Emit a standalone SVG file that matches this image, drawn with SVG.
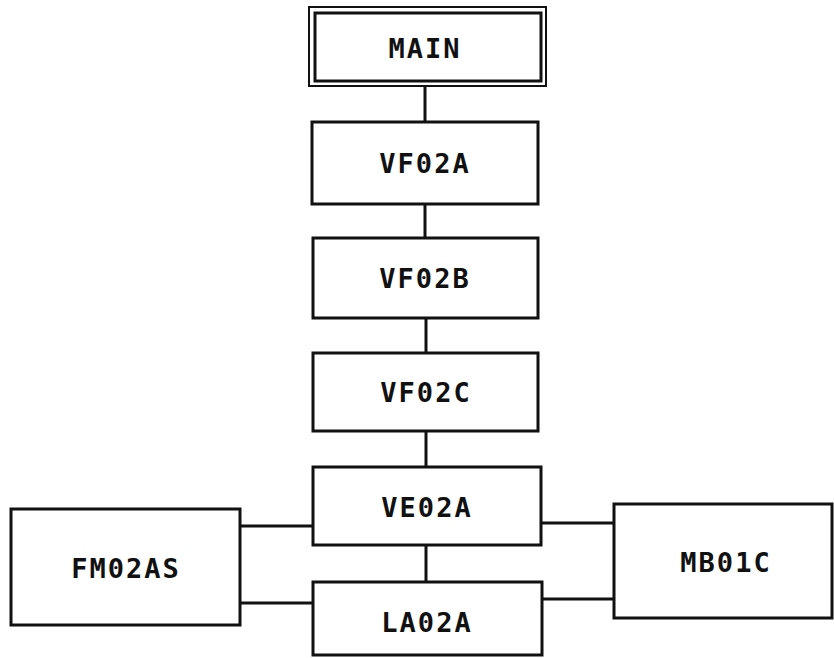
<svg xmlns="http://www.w3.org/2000/svg" width="834" height="658" viewBox="0 0 834 658">
<style>
.box{fill:#fff;stroke:#111;stroke-width:3}
.thin{fill:none;stroke:#111;stroke-width:2}
.conn{fill:none;stroke:#111;stroke-width:3}
.lbl{font-family:"DejaVu Sans Mono","Liberation Mono",monospace;font-size:27px;font-weight:bold;fill:#111;text-anchor:middle;dominant-baseline:central;letter-spacing:2px}
</style>
<rect width="834" height="658" fill="#fff"/>
<g id="connectors">
<line class="conn" x1="425" y1="86" x2="425" y2="122"/>
<line class="conn" x1="425" y1="204" x2="425" y2="238"/>
<line class="conn" x1="426" y1="318" x2="426" y2="353"/>
<line class="conn" x1="426" y1="431" x2="426" y2="467"/>
<line class="conn" x1="426" y1="545" x2="426" y2="582"/>
<line class="conn" x1="240" y1="526" x2="313" y2="526"/>
<line class="conn" x1="240" y1="603" x2="313" y2="603"/>
<line class="conn" x1="541" y1="523" x2="614" y2="523"/>
<line class="conn" x1="542" y1="599" x2="614" y2="599"/>
</g>
<g id="MAIN">
<rect class="thin" x="309" y="7" width="237" height="79"/>
<rect class="box" x="315" y="13" width="226" height="68"/>
<text class="lbl" x="425" y="48">MAIN</text>
</g>
<g id="VF02A">
<rect class="box" x="312" y="122" width="226" height="82"/>
<text class="lbl" x="425" y="163">VF02A</text>
</g>
<g id="VF02B">
<rect class="box" x="313" y="238" width="225" height="80"/>
<text class="lbl" x="425" y="278">VF02B</text>
</g>
<g id="VF02C">
<rect class="box" x="313" y="353" width="225" height="78"/>
<text class="lbl" x="426" y="392">VF02C</text>
</g>
<g id="VE02A">
<rect class="box" x="313" y="467" width="228" height="78"/>
<text class="lbl" x="427" y="507">VE02A</text>
</g>
<g id="LA02A">
<rect class="box" x="313" y="582" width="229" height="73"/>
<text class="lbl" x="427" y="622">LA02A</text>
</g>
<g id="FM02AS">
<rect class="box" x="11" y="509" width="229" height="116"/>
<text class="lbl" x="126" y="568">FM02AS</text>
</g>
<g id="MB01C">
<rect class="box" x="614" y="504" width="218" height="114"/>
<text class="lbl" x="726" y="562">MB01C</text>
</g>
</svg>
